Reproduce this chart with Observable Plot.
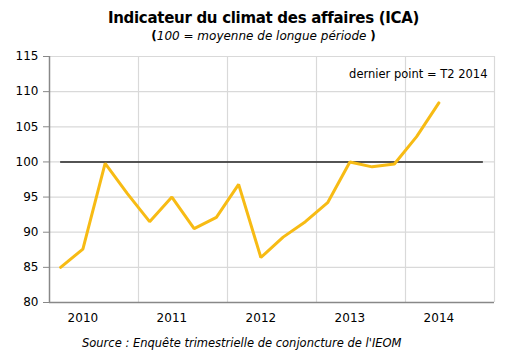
<!DOCTYPE html>
<html><head><meta charset="utf-8">
<script src="https://cdn.jsdelivr.net/npm/d3@7"></script>
<script src="https://cdn.jsdelivr.net/npm/@observablehq/plot@0.6"></script>
<style>
body{margin:0;background:#fff;width:517px;font-family:"DejaVu Sans",Verdana,sans-serif;color:#000;}
#title{padding-top:8px;line-height:20px;height:20px;font-size:15px;font-weight:bold;text-align:center;padding-left:10px;letter-spacing:-0.3px;}
#sub{line-height:16px;height:16px;font-size:12px;text-align:center;padding-left:10px;}
#sub b{font-style:normal;}
#chart{height:288px;}
#src{padding-top:3px;line-height:16px;font-size:11.5px;font-style:italic;padding-left:82px;word-spacing:0px;}
</style></head><body>
<div id="title">Indicateur du climat des affaires (ICA)</div>
<div id="sub"><b>(</b><i>100 = moyenne de longue période </i><b>)</b></div>
<div id="chart"></div>
<div id="src">Source : Enquête trimestrielle de conjoncture de l'IEOM</div>
<script>
const quarters = ["T1 2010","T2 2010","T3 2010","T4 2010","T1 2011","T2 2011","T3 2011","T4 2011","T1 2012","T2 2012","T3 2012","T4 2012","T1 2013","T2 2013","T3 2013","T4 2013","T1 2014","T2 2014"];
const ica = [85.0, 87.6, 99.8, 95.5, 91.5, 95.0, 90.5, 92.1, 96.8, 86.4, 89.3, 91.5, 94.2, 100.0, 99.3, 99.7, 103.6, 108.4];
const years = ["2010","2011","2012","2013","2014"];
const yTicks = [80, 85, 90, 95, 100, 105, 110, 115];
const reference = 100;
const note = "dernier point = T2 2014";

const data = quarters.map((q, i) => ({i, q, v: ica[i]}));
const yearStart = years.map((y, k) => k * 4 - 0.5);
const xEnd = years.length * 4 - 0.5;
const boundaries = [...yearStart, xEnd];
const yearLabelPos = years.map((y, k) => k * 4 + 1);

const chart = Plot.plot({
  width: 517,
  height: 288,
  marginLeft: 49,
  marginRight: 23,
  marginTop: 12,
  marginBottom: 30,
  style: {fontFamily: '"DejaVu Sans", Verdana, sans-serif', fontSize: "11.5px", color: "#000", background: "#fff"},
  x: {domain: [-0.5, xEnd], axis: null},
  y: {domain: [80, 115], axis: null},
  marks: [
    Plot.ruleY(yTicks.filter(t => t > 80), {stroke: "#d9d9d9", strokeWidth: 1.2}),
    Plot.ruleX(boundaries.slice(1), {stroke: "#d9d9d9", strokeWidth: 1.2}),
    Plot.axisY({ticks: yTicks, tickSize: 6, tickPadding: 5, stroke: "#888", fontSize: 12, label: null, tickFormat: d => String(d)}),
    Plot.axisX({ticks: yearLabelPos, tickSize: 0, tickPadding: 11, fontSize: 12, label: null, tickFormat: (d) => years[(d - 1) / 4]}),
    Plot.ruleX([-0.5], {stroke: "#888", strokeWidth: 1.5}),
    Plot.ruleY([80], {stroke: "#888", strokeWidth: 1.5}),
    Plot.ruleY([reference], {x1: 0, x2: xEnd - 0.5, stroke: "#222", strokeWidth: 1.6}),
    Plot.line(data, {x: "i", y: "v", stroke: "#f7bb14", strokeWidth: 3, strokeLinejoin: "miter"}),
    Plot.text([note], {frameAnchor: "top-right", dx: -7, dy: 18, lineAnchor: "middle", textAnchor: "end", fontSize: 11.5})
  ]
});
document.getElementById("chart").appendChild(chart);
</script>
</body></html>
